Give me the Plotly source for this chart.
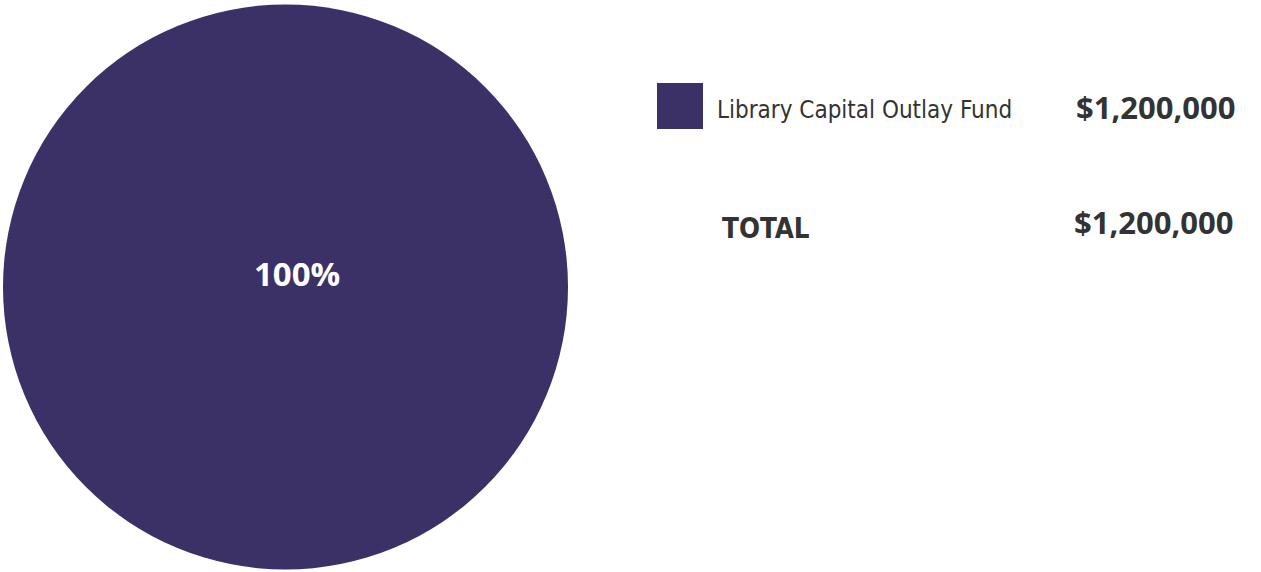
import plotly.graph_objects as go

# Data
labels = ["Library Capital Outlay Fund"]
values = [1200000]
colors = ["#3b3166"]
total_label = "TOTAL"

W, H = 1261, 572
text_color = "#333333"
narrow = "Liberation Sans Narrow, DejaVu Sans Condensed, Arial Narrow, sans-serif"
bold = "Open Sans, Roboto, Arial, sans-serif"

total = sum(values)

fig = go.Figure(go.Pie(
    labels=labels,
    values=values,
    marker=dict(colors=colors),
    textinfo="none",
    hoverinfo="label+value+percent",
    sort=False,
    showlegend=False,
    domain=dict(x=[3 / W, 568 / W], y=[1 - 570 / H, 1 - 4 / H]),
))

annotations = []
shapes = []

# percent label on the pie
annotations.append(dict(
    x=296.5 / W, y=1 - 274 / H, xref="paper", yref="paper",
    xanchor="center", yanchor="middle",
    text=f"<b>{values[0] / total:.0%}</b>", showarrow=False,
    font=dict(family=bold, size=33, color="white"),
))

# custom legend rows
row_y = 107
for i, (lab, val) in enumerate(zip(labels, values)):
    y = row_y + i * 60
    shapes.append(dict(
        type="rect", xref="paper", yref="paper",
        x0=657 / W, x1=703 / W, y0=1 - 129 / H, y1=1 - 83 / H,
        fillcolor=colors[i], line=dict(width=0),
    ))
    annotations.append(dict(
        x=715 / W, y=1 - (y + 3) / H, xref="paper", yref="paper",
        xanchor="left", yanchor="middle", showarrow=False,
        text=lab, font=dict(family=narrow, size=24, color=text_color),
    ))
    annotations.append(dict(
        x=1237 / W, y=1 - y / H, xref="paper", yref="paper",
        xanchor="right", yanchor="middle", showarrow=False,
        text=f"<b>${val:,.0f}</b>", font=dict(family=bold, size=31, color=text_color),
    ))

# total row
annotations.append(dict(
    x=720 / W, y=1 - 228 / H, xref="paper", yref="paper",
    xanchor="left", yanchor="middle", showarrow=False,
    text=f"<b>{total_label}</b>", font=dict(family=narrow, size=27.5, color=text_color),
))
annotations.append(dict(
    x=1235 / W, y=1 - 222 / H, xref="paper", yref="paper",
    xanchor="right", yanchor="middle", showarrow=False,
    text=f"<b>${total:,.0f}</b>", font=dict(family=bold, size=31, color=text_color),
))

fig.update_layout(
    width=W, height=H,
    margin=dict(l=0, r=0, t=0, b=0),
    paper_bgcolor="white",
    plot_bgcolor="white",
    shapes=shapes,
    annotations=annotations,
)

# drop the default page margin so the figure sits at the window origin
fig.write_html(
    "out.html",
    config={"displayModeBar": False},
    post_script="document.body.style.margin='0';",
)
